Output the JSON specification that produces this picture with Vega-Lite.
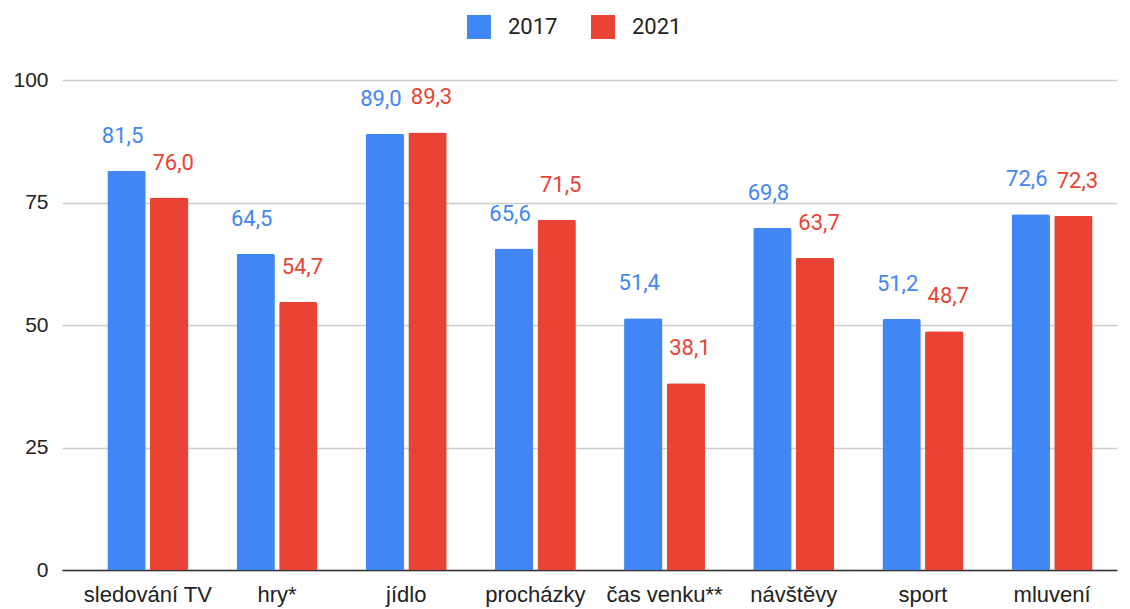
{
  "$schema": "https://vega.github.io/schema/vega-lite/v6.json",
  "width": 1055,
  "height": 490,
  "autosize": {"type": "none"},
  "padding": {"left": 62, "top": 80, "right": 13, "bottom": 39},
  "config": {
    "view": {"stroke": null},
    "font": "Roboto",
    "locale": {"number": {"decimal": ",", "thousands": " ", "grouping": [3], "currency": ["", " Kč"]}}
  },
  "data": {
    "values": [
      {"activity": "sledování TV", "year": "2017", "value": 81.5},
      {"activity": "sledování TV", "year": "2021", "value": 76.0},
      {"activity": "hry*", "year": "2017", "value": 64.5},
      {"activity": "hry*", "year": "2021", "value": 54.7},
      {"activity": "jídlo", "year": "2017", "value": 89.0},
      {"activity": "jídlo", "year": "2021", "value": 89.3},
      {"activity": "procházky", "year": "2017", "value": 65.6},
      {"activity": "procházky", "year": "2021", "value": 71.5},
      {"activity": "čas venku**", "year": "2017", "value": 51.4},
      {"activity": "čas venku**", "year": "2021", "value": 38.1},
      {"activity": "návštěvy", "year": "2017", "value": 69.8},
      {"activity": "návštěvy", "year": "2021", "value": 63.7},
      {"activity": "sport", "year": "2017", "value": 51.2},
      {"activity": "sport", "year": "2021", "value": 48.7},
      {"activity": "mluvení", "year": "2017", "value": 72.6},
      {"activity": "mluvení", "year": "2021", "value": 72.3}
    ]
  },
  "encoding": {
    "x": {
      "field": "activity", "type": "nominal", "sort": null,
      "scale": {"paddingInner": 0.373, "paddingOuter": 0.27, "align": 0.65},
      "axis": {"title": null, "ticks": false, "labelAngle": 0, "labelPadding": 14, "labelFont": "Liberation Sans", "labelFontSize": 22, "labelColor": "#222", "domainColor": "#333", "domainWidth": 1.5}
    },
    "xOffset": {"field": "year", "type": "nominal", "scale": {"paddingInner": 0.1}},
    "y": {
      "field": "value", "type": "quantitative",
      "scale": {"domain": [0, 100]},
      "axis": {"title": null, "values": [0, 25, 50, 75, 100], "domain": false, "ticks": false, "labelPadding": 14, "labelFont": "Liberation Sans", "labelFontSize": 21, "labelColor": "#222", "gridColor": "#cccccc", "gridWidth": 1.3}
    },
    "color": {
      "field": "year", "type": "nominal",
      "scale": {"domain": ["2017", "2021"], "range": ["#4285F4", "#EA4335"]},
      "legend": {"title": null, "orient": "none", "legendX": 405, "legendY": -65, "direction": "horizontal", "symbolType": "square", "symbolSize": 576, "symbolStrokeWidth": 0, "symbolOpacity": 1, "labelFontSize": 22, "labelColor": "#222", "labelOffset": 17, "columnPadding": 33}
    }
  },
  "layer": [
    {"mark": {"type": "bar", "cornerRadiusTopLeft": 2, "cornerRadiusTopRight": 2}},
    {
      "transform": [{"filter": "datum.year === '2017'"}],
      "mark": {"type": "text", "baseline": "alphabetic", "dy": -28, "dx": -4, "fontSize": 22},
      "encoding": {"text": {"field": "value", "type": "quantitative", "format": ".1f"}}
    },
    {
      "transform": [{"filter": "datum.year === '2021'"}],
      "mark": {"type": "text", "baseline": "alphabetic", "dy": -28, "dx": 4, "fontSize": 22},
      "encoding": {"text": {"field": "value", "type": "quantitative", "format": ".1f"}}
    }
  ]
}
